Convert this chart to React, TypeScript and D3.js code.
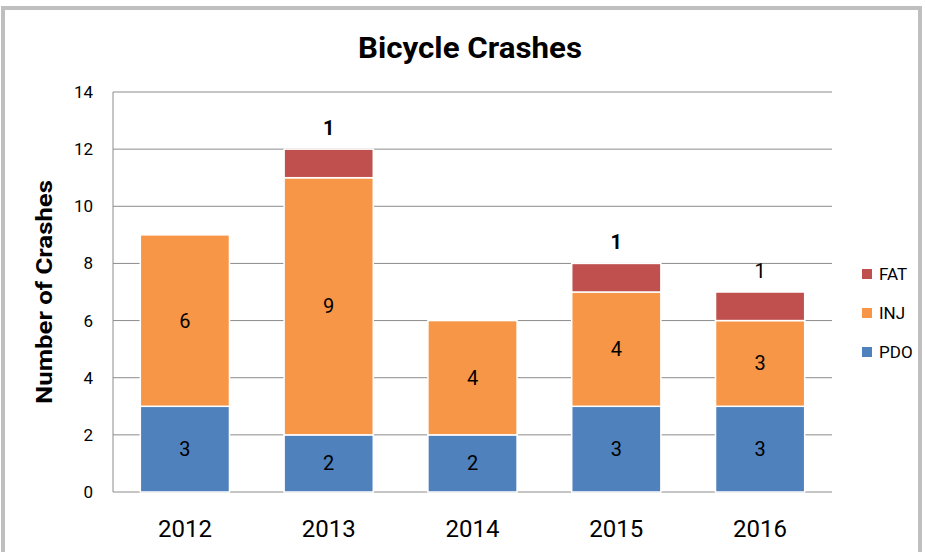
import React from 'react';
import * as d3 from 'd3';

const years = ['2012', '2013', '2014', '2015', '2016'];
const PDO = [3, 2, 2, 3, 3];
const INJ = [6, 9, 4, 4, 3];
const FAT = [0, 1, 0, 1, 1];
const yTicks = [0, 2, 4, 6, 8, 10, 12, 14];
const seriesNames = ['PDO', 'INJ', 'FAT'];
const colors = ['#4F81BD', '#F79646', '#C0504D'];

const W = 925;
const H = 552;
const margin = { left: 113, right: 93, top: 92, bottom: 60 };
const font = "Roboto, 'Noto Sans', sans-serif";

const App = () => {
  const rows = years.map((y, i) => ({ year: y, PDO: PDO[i], INJ: INJ[i], FAT: FAT[i] }));
  const stack = d3.stack().keys(seriesNames)(rows as any);

  const x = d3.scaleBand().domain(years).range([margin.left, W - margin.right]).paddingInner(0.38).paddingOuter(0.19);
  const y = d3.scaleLinear().domain([0, 14]).range([H - margin.bottom, margin.top]);

  return (
    <svg width={W} height={H} style={{ position: 'absolute', left: 0, top: 0, background: '#fff' }}>
      <rect x={3} y={8} width={917} height={600} fill="#fff" stroke="#BFBFBF" strokeWidth={4} />
      <text x={470} y={58} textAnchor="middle" fontFamily={font} fontWeight="bold" fontSize={30}
        textLength={224} lengthAdjust="spacingAndGlyphs">Bicycle Crashes</text>
      {/* grid */}
      {yTicks.map(t => (
        <g key={t}>
          <line x1={margin.left} x2={W - margin.right} y1={y(t)} y2={y(t)} stroke="#8C8C8C" strokeWidth={1} />
          <text x={93} y={y(t)} dy="0.35em" textAnchor="end" fontFamily={font} fontSize={17}>{t}</text>
        </g>
      ))}
      <line x1={margin.left} x2={margin.left} y1={y(14)} y2={y(0)} stroke="#8C8C8C" />
      <text transform={`translate(52,${(y(0) + y(14)) / 2}) rotate(-90)`} textAnchor="middle" fontFamily={font}
        fontWeight="bold" fontSize={22} textLength={224} lengthAdjust="spacingAndGlyphs">Number of Crashes</text>
      {/* bars */}
      {stack.map((s, si) => (
        <g key={s.key}>
          {s.map((d, i) => {
            const v = d[1] - d[0];
            if (v <= 0) return null;
            return (
              <rect key={i} x={x(years[i])} y={y(d[1])} width={x.bandwidth()} height={y(d[0]) - y(d[1])}
                fill={colors[si]} stroke="#fff" strokeWidth={1.5} />
            );
          })}
        </g>
      ))}
      {/* labels */}
      {stack.map((s, si) => s.map((d, i) => {
        const v = d[1] - d[0];
        if (v <= 0) return null;
        const cx = (x(years[i]) as number) + x.bandwidth() / 2;
        if (s.key === 'FAT') {
          return (
            <text key={s.key + i} x={cx} y={y(d[1]) - 21} dy="0.35em" textAnchor="middle" fontFamily={font}
              fontSize={20} fontWeight={years[i] === '2016' ? 'normal' : 'bold'}>{v}</text>
          );
        }
        return (
          <text key={s.key + i} x={cx} y={(y(d[0]) + y(d[1])) / 2} dy="0.35em" textAnchor="middle" fontFamily={font} fontSize={20}>{v}</text>
        );
      }))}
      {/* x axis labels */}
      {years.map(yr => (
        <text key={yr} x={(x(yr) as number) + x.bandwidth() / 2} y={537} textAnchor="middle" fontFamily={font} fontSize={24}>{yr}</text>
      ))}
      {/* legend */}
      {['FAT', 'INJ', 'PDO'].map((k, i) => (
        <g key={k} transform={`translate(862,${274 + i * 39})`}>
          <rect x={0} y={-5} width={10} height={10} fill={colors[seriesNames.indexOf(k)]} />
          <text x={17} y={0} dy="0.35em" fontFamily={font} fontSize={17}>{k}</text>
        </g>
      ))}
    </svg>
  );
};

export default App;
